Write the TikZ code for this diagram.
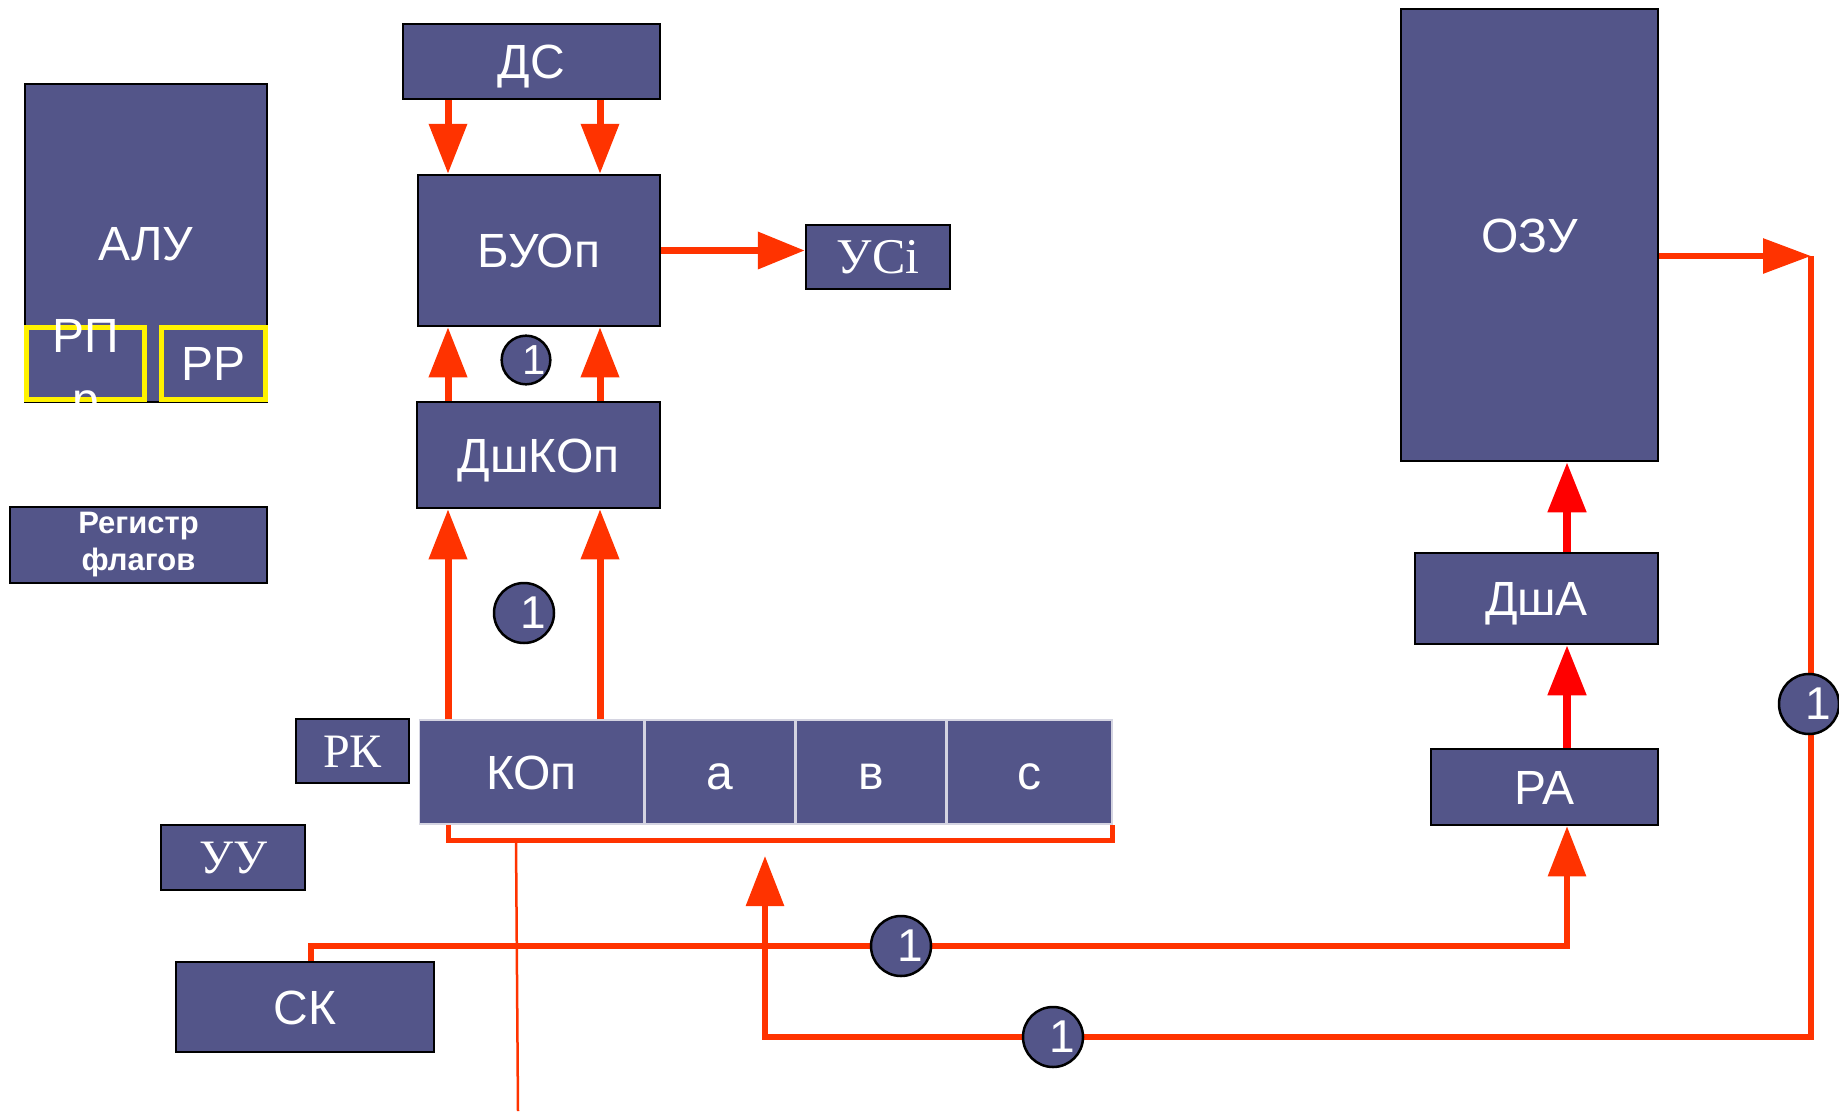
\documentclass[tikz,border=0pt]{standalone}
\usepackage{fontspec}
\setmainfont{Liberation Sans}
\newfontfamily\timesfont{Liberation Serif}
\usetikzlibrary{positioning}
\usetikzlibrary{arrows.meta}
\definecolor{boxblue}{RGB}{83,85,137}
\definecolor{busred}{RGB}{255,51,0}
\definecolor{addrred}{RGB}{255,0,0}

\begin{document}
\begin{tikzpicture}[x=1pt, y=-1pt, line width=2.5pt,
    box/.style={draw=black, fill=boxblue, text=white, inner sep=0pt},
    unit/.style={box, text height=34pt, text depth=0pt, font=\fontsize{48}{56}\selectfont},
    serifunit/.style={unit, text height=32pt, font=\timesfont\fontsize{48}{56}\selectfont},
    reg/.style={unit, draw=yellow, line width=5pt},
    field/.style={fill=boxblue, draw=white!75!boxblue, line width=1.5pt, text=white, inner sep=0pt, minimum height=104pt, text height=34pt, text depth=0pt, font=\fontsize{48}{56}\selectfont},
    num/.style={circle, draw=black, fill=boxblue, text=white, inner sep=0pt, minimum size=60pt, font=\fontsize{46}{50}\selectfont},
    bus/.style={draw=busred, line width=7pt},
    arr/.style={bus, -{Triangle[length=50pt, width=37pt]}},
  ]
    \useasboundingbox (0,0) rectangle (1839,1111);

    % Nodes
    \node[unit, minimum width=242pt, minimum height=318pt] (alu) at (146,243) {АЛУ};
    \node[reg, minimum width=118pt, minimum height=72pt] (rpr) at (85.5,363.5) {};
    \node[text=white, inner sep=0pt, anchor=north, align=center, font=\fontsize{48}{64}\selectfont] (rprtext) at (85.5,318.5) {РП\\р};
    \node[reg, minimum width=104pt, minimum height=72pt] (rr) at (213.5,363.5) {РР};
    \node[box, minimum width=257pt, minimum height=76pt, align=center, font=\bfseries\fontsize{31}{37}\selectfont] (flags) at (138.5,545) {Регистр\\флагов};

    \node[unit, minimum width=257pt, minimum height=75pt] (ds) at (531.5,61.5) {ДС};
    \node[unit, minimum width=242pt, minimum height=151pt] (buop) at (539,250.5) {БУОп};
    \node[serifunit, minimum width=144pt, minimum height=64pt, font=\timesfont\fontsize{50}{56}\selectfont] (usi) at (878,257) {УСi};
    \node[unit, minimum width=243pt, minimum height=106pt] (dshkop) at (538.5,455) {ДшКОп};

    \node[serifunit, minimum width=113pt, minimum height=64pt] (rk) at (352.5,751) {РК};
    \node[field, minimum width=224.5pt] (kop) at (531.5,772) {КОп};
    \node[field, minimum width=149.5pt, right=0pt of kop] (flda) {а};
    \node[field, minimum width=149.5pt, right=0pt of flda] (fldv) {в};
    \node[field, minimum width=164.5pt, right=0pt of fldv] (fldc) {с};
    \node[serifunit, minimum width=144pt, minimum height=65pt] (uu) at (233,857.5) {УУ};
    \node[unit, minimum width=258pt, minimum height=90pt] (sk) at (305,1007) {СК};

    \node[unit, minimum width=257pt, minimum height=452pt] (ozu) at (1529.5,235) {ОЗУ};
    \node[unit, minimum width=243pt, minimum height=91pt] (dsha) at (1536.5,598.5) {ДшА};
    \node[unit, minimum width=227pt, minimum height=76pt] (ra) at (1544.5,787) {РА};

    % Lines
    \coordinate (colL) at (448,0);
    \coordinate (colR) at (600,0);
    \coordinate (colA) at (1567,0);
    \coordinate (colB) at (765,0);
    \coordinate (colSK) at (311,0);
    \coordinate (rowSK) at (0,946);
    \coordinate (rowOp) at (0,1037);
    \coordinate (brk) at (516,840);
    \coordinate (tail) at (518,1111);
    \coordinate (opin) at (765,856);
    \coordinate (ozuR) at (1811,256);

    \draw[arr] (ds.south -| colL) -- (buop.north -| colL);
    \draw[arr] (ds.south -| colR) -- (buop.north -| colR);
    \draw[bus, -{Triangle[length=47pt, width=36pt]}] (buop.east) -- (buop.east -| usi.west);
    \draw[arr] (dshkop.north -| colL) -- (buop.south -| colL);
    \draw[arr] (dshkop.north -| colR) -- (buop.south -| colR);
    \draw[arr] (kop.north -| colL) -- (dshkop.south -| colL);
    \draw[arr] (kop.north -| colR) -- (dshkop.south -| colR);

    \draw[arr, draw=addrred, line width=8pt] (ra.north -| colA) -- (dsha.south -| colA);
    \draw[arr, draw=addrred, line width=8pt] (dsha.north -| colA) -- (ozu.south -| colA);

    \draw[bus, line width=5pt] (kop.south -| colL) |- (brk) -| (fldc.south east);
    \draw[busred, line width=2.5pt] (brk) -- (tail);

    \draw[arr, line width=6pt] (sk.north -| colSK) |- (colA |- rowSK) -- (ra.south -| colA);
    \draw[bus, line width=6pt, -{Triangle[length=48pt, width=34pt]}] ([yshift=-21pt]ozu.east) -- (ozuR);
    \draw[arr, line width=6pt] (ozuR) |- (colB |- rowOp) -- (opin);

    % Markers
    \node[num, minimum size=48pt, font=\fontsize{42}{46}\selectfont] (n1) at (526,360) {\hspace*{16pt}1};
    \node[num] (n2) at (524,613) {\hspace*{18pt}1};
    \node[num] (n3) at (901,946) {\hspace*{18pt}1};
    \node[num] (n4) at (1053,1037) {\hspace*{18pt}1};
    \node[num] (n5) at (1809,704) {\hspace*{18pt}1};
\end{tikzpicture}
\end{document}
